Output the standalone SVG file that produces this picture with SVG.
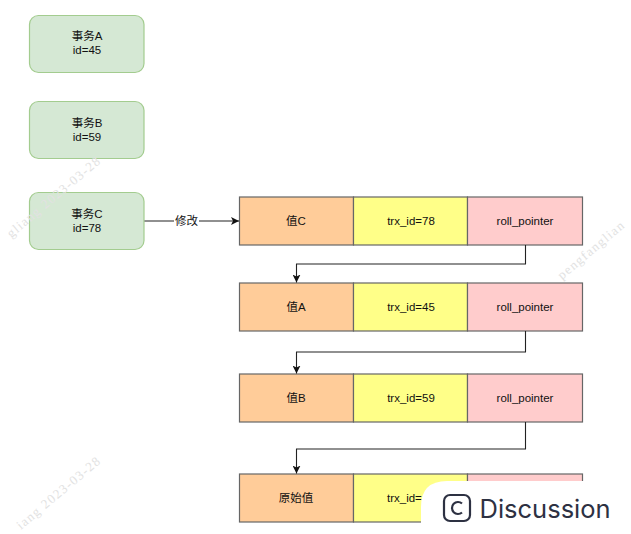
<svg xmlns="http://www.w3.org/2000/svg" width="631" height="534" viewBox="0 0 631 534">
<style>
text{font-family:"Liberation Sans","Noto Sans CJK SC",sans-serif;font-size:11.5px;fill:#111;text-anchor:middle}
.tx{fill:#d5e8d4;stroke:#a3cc8f;stroke-width:1.2}
.c{stroke:#666;stroke-width:1.2}
.o{fill:#ffcc99}.y{fill:#ffff88}.p{fill:#ffcccc}
.l{fill:none;stroke:#222;stroke-width:1.1}
.wm{font-family:"Liberation Serif",serif;font-size:13px;letter-spacing:1.300px;fill:#e2e2e2}
</style>
<defs><marker id="a" markerWidth="9" markerHeight="8" refX="8" refY="4" orient="auto" markerUnits="userSpaceOnUse"><path d="M0 0L8 4L0 8L2 4Z" fill="#111"/></marker></defs>
<rect width="631" height="534" fill="#fff"/>
<g id="txA"><rect class="tx" x="29.500" y="15.500" width="114.500" height="57" rx="9"/><text x="87" y="40">事务A</text><text x="87" y="54">id=45</text></g>
<g id="txB"><rect class="tx" x="29.500" y="101.500" width="114.500" height="57" rx="9"/><text x="87" y="127">事务B</text><text x="87" y="141">id=59</text></g>
<g id="txC"><rect class="tx" x="29.500" y="192.500" width="114.500" height="57" rx="9"/><text x="87" y="218">事务C</text><text x="87" y="232">id=78</text></g>
<g id="v1"><rect class="c o" x="239.500" y="197" width="114" height="48"/><rect class="c y" x="353.500" y="197" width="114" height="48"/><rect class="c p" x="467.500" y="197" width="115" height="48"/><text x="296" y="225">值C</text><text x="411" y="225">trx_id=78</text><text x="525" y="225">roll_pointer</text></g>
<g id="v2"><rect class="c o" x="239.500" y="283" width="114" height="48"/><rect class="c y" x="353.500" y="283" width="114" height="48"/><rect class="c p" x="467.500" y="283" width="115" height="48"/><text x="296" y="311">值A</text><text x="411" y="311">trx_id=45</text><text x="525" y="311">roll_pointer</text></g>
<g id="v3"><rect class="c o" x="239.500" y="374" width="114" height="48"/><rect class="c y" x="353.500" y="374" width="114" height="48"/><rect class="c p" x="467.500" y="374" width="115" height="48"/><text x="296" y="402">值B</text><text x="411" y="402">trx_id=59</text><text x="525" y="402">roll_pointer</text></g>
<g id="v4"><rect class="c o" x="239.500" y="474" width="114" height="48"/><rect class="c y" x="353.500" y="474" width="114" height="48"/><rect class="c p" x="467.500" y="474" width="115" height="48"/><text x="296" y="502">原始值</text><text x="387" y="502" style="text-anchor:start">trx_id=</text></g>
<g id="connectors">
<path class="l" d="M144.500 221H239" marker-end="url(#a)"/>
<path class="l" d="M525.500 245V264H296.500V282.500" marker-end="url(#a)"/>
<path class="l" d="M525.500 331V352H296.500V373.500" marker-end="url(#a)"/>
<path class="l" d="M525.500 422V449H296.500V473.500" marker-end="url(#a)"/>
<rect x="174" y="213" width="25" height="16" fill="#fff"/><text x="186.500" y="225">修改</text>
</g>
<g id="watermarks">
<text class="wm" style="text-anchor:end" transform="translate(102 162) rotate(-40)">gliang 2023-03-28</text>
<text class="wm" style="text-anchor:end" transform="translate(102 462) rotate(-40)">iang 2023-03-28</text>
<text class="wm" style="text-anchor:start" transform="translate(562 280) rotate(-40)">pengfanglian</text>
</g>
<g id="badge">
<path d="M421 534V507Q421 481 447 481H631V534Z" fill="#fff"/>
<rect x="444" y="495" width="26" height="26" rx="6" fill="none" stroke="#2d3142" stroke-width="2.200"/>
<path d="M462 503.500A6 6 0 1 0 462 512.500" fill="none" stroke="#2d3142" stroke-width="2.200"/>
<text x="479.500" y="518" style="text-anchor:start;font-family:'Inter','Liberation Sans',sans-serif;font-size:25.500px;fill:#2d3142">Discussion</text>
</g>
</svg>
